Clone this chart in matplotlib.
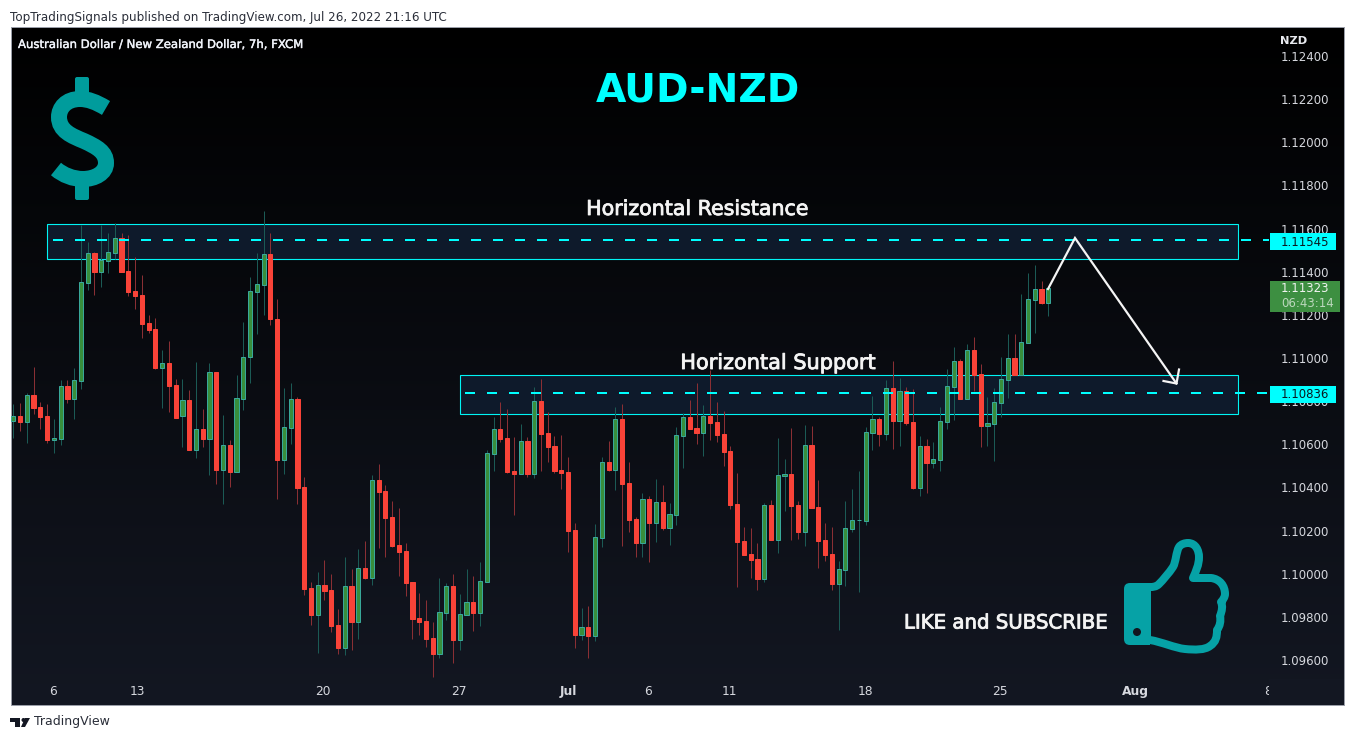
import numpy as np
import matplotlib
matplotlib.use('Agg')
import matplotlib.pyplot as plt
import matplotlib.patheffects as pe
from matplotlib.patches import PathPatch, Rectangle, FancyBboxPatch, Circle, Polygon
from matplotlib.path import Path

plt.rcParams['font.family'] = ['DejaVu Sans']

# candles, 7h bars
opens = [
    1.10710, 1.10730, 1.10705, 1.10827, 1.10772, 1.10730, 1.10622, 1.10626, 1.10869, 1.10812,
    1.10895, 1.11349, 1.11486, 1.11400, 1.11451, 1.11488, 1.11555, 1.11402, 1.11310, 1.11291,
    1.11161, 1.11133, 1.10955, 1.10976, 1.10874, 1.10733, 1.10804, 1.10575, 1.10670, 1.10625,
    1.10934, 1.10481, 1.10597, 1.10473, 1.10812, 1.11005, 1.11308, 1.11340, 1.11482, 1.11183,
    1.10529, 1.10677, 1.10810, 1.10402, 1.09934, 1.09810, 1.09948, 1.09925, 1.09762, 1.09657,
    1.09943, 1.09778, 1.10027, 1.09982, 1.10435, 1.10384, 1.10263, 1.10133, 1.10106, 1.09962,
    1.09795, 1.09781, 1.09702, 1.09629, 1.09820, 1.09943, 1.09694, 1.09810, 1.09869, 1.09820,
    1.09963, 1.10557, 1.10671, 1.10629, 1.10476, 1.10464, 1.10616, 1.10464, 1.10801, 1.10653,
    1.10592, 1.10481, 1.10472, 1.10203, 1.09718, 1.09753, 1.09713, 1.10167, 1.10518, 1.10482,
    1.10718, 1.10421, 1.10254, 1.10143, 1.10347, 1.10235, 1.10333, 1.10212, 1.10272, 1.10639,
    1.10727, 1.10676, 1.10653, 1.10731, 1.10704, 1.10648, 1.10569, 1.10323, 1.10152, 1.10092,
    1.10068, 1.09976, 1.10319, 1.10157, 1.10453, 1.10463, 1.10319, 1.10194, 1.10597, 1.10310,
    1.10157, 1.10092, 1.09953, 1.10017, 1.10208, 1.10247, 1.10245, 1.10653, 1.10718, 1.10648,
    1.10861, 1.10708, 1.10847, 1.10704, 1.10398, 1.10592, 1.10514, 1.10527, 1.10704, 1.10866,
    1.10986, 1.10810, 1.11037, 1.10926, 1.10685, 1.10694, 1.10792, 1.10898, 1.11000, 1.10921,
    1.11070, 1.11269, 1.11320, 1.11255,
]
closes = [
    1.10730, 1.10705, 1.10827, 1.10770, 1.10728, 1.10622, 1.10629, 1.10869, 1.10812, 1.10897,
    1.11351, 1.11486, 1.11400, 1.11453, 1.11490, 1.11555, 1.11400, 1.11308, 1.11289, 1.11159,
    1.11132, 1.10955, 1.10976, 1.10872, 1.10724, 1.10804, 1.10575, 1.10670, 1.10625, 1.10934,
    1.10482, 1.10597, 1.10473, 1.10815, 1.11005, 1.11311, 1.11343, 1.11482, 1.11183, 1.10527,
    1.10680, 1.10810, 1.10399, 1.09929, 1.09809, 1.09948, 1.09920, 1.09758, 1.09656, 1.09943,
    1.09776, 1.10027, 1.09980, 1.10435, 1.10379, 1.10259, 1.10129, 1.10101, 1.09957, 1.09790,
    1.09776, 1.09698, 1.09628, 1.09823, 1.09943, 1.09693, 1.09814, 1.09869, 1.09818, 1.09966,
    1.10560, 1.10671, 1.10625, 1.10472, 1.10463, 1.10616, 1.10463, 1.10801, 1.10648, 1.10588,
    1.10476, 1.10467, 1.10198, 1.09716, 1.09753, 1.09712, 1.10170, 1.10518, 1.10481, 1.10718,
    1.10416, 1.10249, 1.10143, 1.10347, 1.10235, 1.10333, 1.10212, 1.10277, 1.10643, 1.10727,
    1.10671, 1.10653, 1.10731, 1.10699, 1.10643, 1.10565, 1.10319, 1.10147, 1.10087, 1.10064,
    1.09976, 1.10319, 1.10157, 1.10458, 1.10463, 1.10314, 1.10194, 1.10597, 1.10305, 1.10152,
    1.10087, 1.09953, 1.10022, 1.10212, 1.10249, 1.10249, 1.10657, 1.10718, 1.10648, 1.10861,
    1.10708, 1.10847, 1.10699, 1.10398, 1.10592, 1.10514, 1.10532, 1.10708, 1.10870, 1.10986,
    1.10810, 1.11037, 1.10921, 1.10685, 1.10699, 1.10796, 1.10903, 1.11000, 1.10921, 1.11074,
    1.11274, 1.11320, 1.11255, 1.11323,
]
highs = [
    1.10787, 1.10792, 1.10837, 1.10959, 1.10796, 1.10787, 1.10718, 1.10897, 1.10897, 1.10954,
    1.11617, 1.11538, 1.11492, 1.11617, 1.11580, 1.11626, 1.11580, 1.11571, 1.11469, 1.11385,
    1.11200, 1.11186, 1.11037, 1.11079, 1.10903, 1.10903, 1.10852, 1.10982, 1.10764, 1.10977,
    1.10935, 1.10736, 1.10620, 1.10921, 1.11167, 1.11376, 1.11487, 1.11682, 1.11580, 1.11274,
    1.10861, 1.10884, 1.10820, 1.10449, 1.09962, 1.10008, 1.10064, 1.09999, 1.09837, 1.10078,
    1.10022, 1.10115, 1.10152, 1.10458, 1.10509, 1.10412, 1.10337, 1.10305, 1.10143, 1.09962,
    1.09911, 1.09878, 1.09776, 1.09980, 1.09957, 1.09999, 1.09906, 1.10022, 1.09990, 1.10055,
    1.10574, 1.10727, 1.10796, 1.10764, 1.10634, 1.10694, 1.10634, 1.10866, 1.10903, 1.10750,
    1.10639, 1.10643, 1.10541, 1.10235, 1.09841, 1.09851, 1.10231, 1.10541, 1.10616, 1.10773,
    1.10787, 1.10518, 1.10263, 1.10374, 1.10361, 1.10439, 1.10412, 1.10328, 1.10680, 1.10745,
    1.10806, 1.10884, 1.10782, 1.10945, 1.10796, 1.10755, 1.10592, 1.10467, 1.10217, 1.10212,
    1.10143, 1.10328, 1.10342, 1.10629, 1.10532, 1.10676, 1.10337, 1.10690, 1.10685, 1.10435,
    1.10235, 1.10217, 1.10059, 1.10337, 1.10393, 1.10476, 1.10680, 1.10824, 1.10727, 1.10898,
    1.10986, 1.10908, 1.10866, 1.10857, 1.10639, 1.10625, 1.10611, 1.10773, 1.10949, 1.11051,
    1.10996, 1.11065, 1.11098, 1.10972, 1.10820, 1.10861, 1.11005, 1.11112, 1.11112, 1.11297,
    1.11394, 1.11431, 1.11357, 1.11323,
]
lows = [
    1.10629, 1.10662, 1.10606, 1.10741, 1.10671, 1.10606, 1.10560, 1.10597, 1.10792, 1.10718,
    1.10857, 1.11316, 1.11292, 1.11329, 1.11394, 1.11459, 1.11399, 1.11288, 1.11227, 1.11093,
    1.11116, 1.10949, 1.10769, 1.10750, 1.10722, 1.10588, 1.10574, 1.10537, 1.10588, 1.10458,
    1.10418, 1.10325, 1.10404, 1.10473, 1.10759, 1.10886, 1.11112, 1.11200, 1.11153, 1.10347,
    1.10463, 1.10602, 1.10323, 1.09902, 1.09762, 1.09633, 1.09878, 1.09730, 1.09628, 1.09623,
    1.09647, 1.09698, 1.09976, 1.09948, 1.10119, 1.10078, 1.10124, 1.09990, 1.09897, 1.09698,
    1.09716, 1.09661, 1.09521, 1.09610, 1.09786, 1.09586, 1.09647, 1.09810, 1.09735, 1.09758,
    1.09963, 1.10476, 1.10611, 1.10467, 1.10272, 1.10464, 1.10449, 1.10444, 1.10476, 1.10518,
    1.10467, 1.10393, 1.10101, 1.09656, 1.09693, 1.09610, 1.09688, 1.10124, 1.10476, 1.10388,
    1.10129, 1.10194, 1.10078, 1.10078, 1.10055, 1.10147, 1.10203, 1.10133, 1.10226, 1.10490,
    1.10671, 1.10602, 1.10546, 1.10620, 1.10611, 1.10500, 1.10300, 1.09939, 1.10087, 1.09980,
    1.09925, 1.09962, 1.10157, 1.10096, 1.10291, 1.10157, 1.10161, 1.10129, 1.10305, 1.10027,
    1.10059, 1.09925, 1.09739, 1.09943, 1.10194, 1.09915, 1.10226, 1.10574, 1.10592, 1.10620,
    1.10578, 1.10592, 1.10690, 1.10393, 1.10361, 1.10374, 1.10490, 1.10476, 1.10671, 1.10713,
    1.10810, 1.10810, 1.10847, 1.10588, 1.10592, 1.10523, 1.10727, 1.10815, 1.10921, 1.10921,
    1.11070, 1.11116, 1.11251, 1.11195,
]

price_ticks = [1.124, 1.122, 1.120, 1.118, 1.116, 1.114, 1.112, 1.110, 1.108, 1.106,
               1.104, 1.102, 1.100, 1.098, 1.096]
# bar position of each date label (weekends are collapsed on this axis)
date_pos = [5.9, 18.3, 45.8, 65.9, 82.1, 93.8, 105.9, 125.9, 145.9, 165.9, 185.5]
date_labels = ['6', '13', '20', '27', 'Jul', '6', '11', '18', '25', 'Aug', '8']

resistance_low, resistance_high, resistance_line = 1.11459, 1.11621, 1.11545
support_low, support_high, support_line = 1.10741, 1.10921, 1.10836
last_price = 1.11323

W, H = 1354, 740
CYAN = '#00f5f5'
TEAL = '#009c9c'
LABEL = '#d6d8de'


def px(n):
    # pixels to points at dpi 100
    return n * 0.72


def heavy(width):
    # thickens a regular face a little, closer to the bold of the original
    return [pe.withStroke(linewidth=width, foreground='#f4f4f4')]


fig = plt.figure(figsize=(W / 100, H / 100), dpi=100, facecolor='white')

# chart pane, placed in figure pixels
L, R, T, B = 11, 1344, 27, 705
ax = fig.add_axes([L / W, 1 - B / H, (R - L) / W, (B - T) / H])
ax.set_xlim((L - 13.3) / 6.765, (R - 13.3) / 6.765)
ax.set_ylim(1.096 - (B - 660) / 21570, 1.124 + (56 - T) / 21570)

# background gradient, black at the top to navy at the bottom
grad = np.linspace(0, 1, 256).reshape(-1, 1, 1)
top_c = np.array([0, 0, 0]).reshape(1, 1, 3)
bot_c = np.array([19, 23, 34]).reshape(1, 1, 3) / 255
ax.imshow(top_c + (bot_c - top_c) * grad, aspect='auto', extent=(*ax.get_xlim(), *ax.get_ylim()),
          origin='upper', zorder=0)

# zones
for x0, lo, hi in [(4.98, resistance_low, resistance_high), (66.03, support_low, support_high)]:
    ax.add_patch(Rectangle((x0, lo), 181.0 - x0, hi - lo, facecolor='#0e1a2b', edgecolor=CYAN,
                           lw=px(1.1), zorder=1))

# candles
x = np.arange(len(opens))
o, c, h, l = map(np.array, (opens, closes, highs, lows))
up = c >= o
ax.vlines(x[up], l[up], h[up], color='#1b5a55', lw=px(1), zorder=2)
ax.vlines(x[~up], l[~up], h[~up], color='#8a2f34', lw=px(1), zorder=2)
ax.bar(x[up], np.maximum(c[up] - o[up], 0.00002), bottom=o[up], width=0.62,
       color='#388e3c', edgecolor='#38a89a', lw=px(1), zorder=3)
ax.bar(x[~up], o[~up] - c[~up], bottom=c[~up], width=0.62,
       color='#f94338', edgecolor='#f94338', lw=px(1), zorder=3)

# dashed levels
for x0, level in [(5.87, resistance_line), (66.8, support_line)]:
    ax.plot([x0, 185.6], [level, level], color='#00ffff', lw=px(2), zorder=4,
            dashes=(5, 6), dash_capstyle='butt')

# price and date labels sit inside the pane
ax.yaxis.tick_right()
ax.set_yticks(price_ticks)
ax.set_yticklabels([f'{p:.5f}' for p in price_ticks], color=LABEL, fontsize=8.5, ha='left')
ax.tick_params(axis='y', length=0, pad=px(-63))
ax.set_xticks(date_pos)
ax.set_xticklabels(date_labels, color=LABEL, fontsize=8.8)
ax.tick_params(axis='x', length=0, pad=px(-20))
for lab in ax.get_xticklabels():
    if lab.get_text() in ('Jul', 'Aug'):
        lab.set_fontweight('bold')
        lab.set_fontsize(8.8)
for side in ax.spines.values():
    side.set_color('#9a9ea8')
    side.set_linewidth(px(1))

# hides the part of the last date label under the price scale
ax.add_patch(Rectangle((185.6, ax.get_ylim()[0]), 12, 0.0012, facecolor='#131722', lw=0, zorder=5))

# overlay in figure pixels for the decorations
ov = fig.add_axes([0, 0, 1, 1], facecolor='none')
ov.set_xlim(0, W)
ov.set_ylim(H, 0)
ov.axis('off')

# price tags
for y0, y1, txt in [(233, 250, f'{resistance_line:.5f}'), (386, 403, f'{support_line:.5f}')]:
    ov.add_patch(Rectangle((1270, y0), 66, y1 - y0, facecolor='#00ffff', lw=0, zorder=6))
    ov.text(1281, (y0 + y1) / 2 + 0.5, txt, color='#0a1a20', fontsize=8.5, va='center', ha='left', zorder=7)
ov.add_patch(Rectangle((1270, 281), 70, 31, facecolor='#3d8f41', lw=0, zorder=6))
ov.text(1281, 289, f'{last_price:.5f}', color='#f0f3f0', fontsize=8.5, va='center', zorder=7)
ov.text(1281, 303.5, '06:43:14', color='#bcd8bd', fontsize=8.5, va='center', zorder=7)

# header and footer
ov.text(10, 17.5, 'TopTradingSignals published on TradingView.com, Jul 26, 2022 21:16 UTC',
        color='#2a2e39', fontsize=8.55, va='center')
ov.text(18, 44.5, 'Australian Dollar / New Zealand Dollar, 7h, FXCM', color='#f0f3fa',
        fontsize=8.4, va='center', path_effects=[pe.withStroke(linewidth=0.3, foreground='#f0f3fa')])
ov.text(1280, 41, 'NZD', color='#e8eaef', fontsize=8.2, va='center', fontweight='bold')
ov.text(34, 722, 'TradingView', color='#2a2e39', fontsize=9.0, va='center')
ov.add_patch(Polygon([(10, 718), (20, 718), (20, 727), (15, 727), (15, 722), (10, 722)], facecolor='#131722', lw=0))
ov.add_patch(Circle((23.5, 720), 2, facecolor='#131722', lw=0))
ov.add_patch(Polygon([(30, 718), (25, 727), (21, 727), (25, 718)], facecolor='#131722', lw=0))

# chart annotations
ov.text(698, 90, 'AUD-NZD', color='#00ffff', fontsize=28.3, ha='center', va='center', fontweight='bold')
ov.text(697, 209, 'Horizontal Resistance', color='#f4f4f4', fontsize=14.8, ha='center', va='center', path_effects=heavy(0.6))
ov.text(778, 363, 'Horizontal Support', color='#f4f4f4', fontsize=15, ha='center', va='center', path_effects=heavy(0.6))
ov.text(1005.5, 623, 'LIKE and SUBSCRIBE', color='#f4f4f4', fontsize=14.2, ha='center', va='center', path_effects=heavy(0.6))

# projected move
ov.plot([1048, 1075, 1176.5], [289, 238, 383.5], color='#f5f5f5', lw=px(2.2), solid_joinstyle='miter', zorder=6)
ov.plot([1163.5, 1176.5, 1179], [381, 383.5, 369.5], color='#f5f5f5', lw=px(2.2), zorder=6)

# dollar sign
d_verts = [(106, 108), (96, 102), (88, 99), (80, 99), (66, 99), (59, 108), (59, 117), (59, 131), (72, 136), (84, 141),
           (97, 147), (106, 152), (106, 163), (106, 173), (95, 179), (83, 179), (73, 179), (63, 175), (56, 169)]
d_codes = [Path.MOVETO] + [Path.CURVE4] * 18
ov.add_patch(PathPatch(Path(d_verts, d_codes), facecolor='none', edgecolor=TEAL, lw=px(16), capstyle='butt'))
ov.add_patch(FancyBboxPatch((77, 79), 10, 15, boxstyle='round,pad=2,rounding_size=2', facecolor=TEAL, lw=0))
ov.add_patch(FancyBboxPatch((77, 183), 10, 15, boxstyle='round,pad=2,rounding_size=2', facecolor=TEAL, lw=0))

# thumbs up
THUMB = '#06a2a6'
ov.add_patch(FancyBboxPatch((1128, 587), 19, 54, boxstyle='round,pad=4,rounding_size=6', facecolor=THUMB, lw=0))
ov.add_patch(Rectangle((1140, 583), 10, 62, facecolor=THUMB, lw=0))
ov.add_patch(Circle((1137, 632), 4, facecolor='#12161f', lw=0))
t_verts = [(1150, 587), (1153, 587), (1156, 587), (1159, 584), (1163, 580), (1169, 573), (1173, 567),
           (1176, 562), (1176, 552), (1179, 547), (1181, 544), (1185, 543), (1188, 543),
           (1196, 543), (1199, 551), (1199, 557), (1199, 565), (1196, 571), (1193, 578),
           (1200, 578), (1206, 578), (1211, 578), (1220, 579), (1225, 586), (1225, 594),
           (1225, 597), (1223, 600), (1221, 602), (1223, 606), (1222, 611), (1220, 616),
           (1221, 621), (1220, 626), (1217, 630), (1217, 637), (1216, 642), (1210, 646),
           (1205, 650), (1195, 650), (1185, 649), (1175, 648), (1162, 642), (1150, 640)]
t_codes = [Path.MOVETO] + [Path.CURVE4] * 42
ov.add_patch(PathPatch(Path(t_verts, t_codes), facecolor='none', edgecolor=THUMB, lw=px(8), joinstyle='round'))

fig.savefig('out.png', dpi=100)
